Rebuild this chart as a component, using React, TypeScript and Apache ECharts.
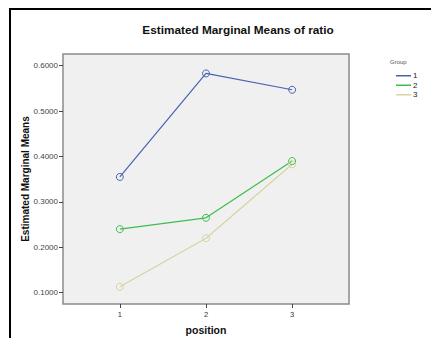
import React, { useEffect, useRef } from "react";
import * as echarts from "echarts";

const positions = [1, 2, 3];
const groupNames = ["1", "2", "3"];
const group1 = [0.355, 0.583, 0.547];
const group2 = [0.240, 0.265, 0.390];
const group3 = [0.113, 0.220, 0.383];
const yTicks = [0.1, 0.2, 0.3, 0.4, 0.5, 0.6];
const colors = ["#4A62B2", "#3DBE4B", "#D8D3A3"];

export default function App() {
  const ref = useRef<HTMLDivElement>(null);
  useEffect(() => {
    if (!ref.current) return;
    const chart = echarts.init(ref.current, null, { renderer: "svg" });
    const seriesData = [group1, group2, group3];
    const font = "Liberation Sans, Arial, sans-serif";
    chart.setOption({
      animation: false,
      backgroundColor: "#ffffff",
      textStyle: { fontFamily: font },
      title: {
        text: "Estimated Marginal Means of ratio",
        left: 233,
        top: 19,
        textAlign: "center",
        textStyle: { fontSize: 11.8, fontWeight: "bold", color: "#111", fontFamily: font },
      },
      grid: {
        left: 63,
        right: 82,
        top: 54,
        bottom: 34,
        outerBoundsMode: "none",
        containLabel: false,
        show: true,
        backgroundColor: "#f0f0f0",
        borderColor: "#8a8a8a",
        borderWidth: 1.5,
      },
      legend: {
        data: groupNames.map((n, i) => ({
          name: n,
          itemStyle: { color: colors[i], borderWidth: 0 },
        })),
        orient: "vertical",
        left: 391,
        top: 66,
        icon: "rect",
        itemWidth: 15,
        itemHeight: 1.5,
        itemGap: 0,
        itemStyle: { borderWidth: 0 },
        textStyle: { fontSize: 8, color: "#222", lineHeight: 9.5, padding: [0, 0, 0, -3], fontFamily: font },
      },
      xAxis: {
        type: "value",
        min: 0.34,
        max: 3.66,
        name: "position",
        nameLocation: "middle",
        nameGap: 20,
        nameMoveOverlap: false,
        nameTextStyle: { fontSize: 10.5, fontWeight: "bold", color: "#111", fontFamily: font, verticalAlign: "top" },
        axisLine: { show: false },
        splitLine: { show: false },
        axisTick: { show: true, length: 4, customValues: positions, lineStyle: { color: "#444" } },
        axisLabel: { customValues: positions, fontSize: 7.5, color: "#333", margin: 6, formatter: (v: number) => String(v) },
      },
      yAxis: {
        type: "value",
        min: 0.0751,
        max: 0.6258,
        name: "Estimated Marginal Means",
        nameLocation: "middle",
        nameGap: 33,
        nameMoveOverlap: false,
        nameTextStyle: { fontSize: 10, fontWeight: "bold", color: "#111", fontFamily: font },
        axisLine: { show: false },
        splitLine: { show: false },
        axisTick: { show: true, length: 4, customValues: yTicks, lineStyle: { color: "#444" } },
        axisLabel: { customValues: yTicks, fontSize: 8, color: "#444", margin: 5, formatter: (v: number) => v.toFixed(4) },
      },
      graphic: [
        { type: "line", shape: { x1: 10, y1: 9, x2: 431, y2: 9 }, style: { stroke: "#000", lineWidth: 2 } },
        { type: "line", shape: { x1: 10, y1: 8, x2: 10, y2: 338 }, style: { stroke: "#000", lineWidth: 2 } },
        {
          type: "text",
          left: 390,
          top: 59,
          style: { text: "Group", fontSize: 6, fill: "#555", fontFamily: font },
        },
      ],
      series: seriesData.map((vals, i) => ({
        type: "line",
        name: groupNames[i],
        data: positions.map((p, j) => [p, vals[j]]),
        symbol: "circle",
        symbolSize: 7,
        lineStyle: { width: 1.2, color: colors[i] },
        itemStyle: { color: "rgba(0,0,0,0)", borderColor: colors[i], borderWidth: 1 },
      })),
    });
    return () => chart.dispose();
  }, []);
  return (
    <div
      ref={ref}
      style={{ position: "fixed", left: 0, top: 0, width: 431, height: 338 }}
    />
  );
}
